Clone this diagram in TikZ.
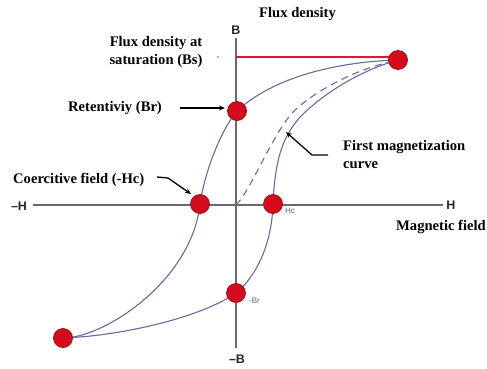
\documentclass[tikz,border=0pt]{standalone}
\usepackage{fontspec}
\setmainfont{Liberation Serif}
\newfontfamily\axisfont{Liberation Sans}
\usetikzlibrary{arrows.meta}
\definecolor{dotred}{RGB}{212,10,30}
\definecolor{dotedge}{RGB}{150,20,30}
\definecolor{curvecol}{RGB}{105,105,155}
\definecolor{axiscol}{RGB}{105,105,105}
\definecolor{satred}{RGB}{225,20,50}
\pgfdeclarelayer{bg}
\pgfsetlayers{bg,main}
\tikzset{
  dot/.style={circle, fill=dotred, draw=dotedge, line width=0.8pt, minimum size=19pt, inner sep=0pt},
  loopcurve/.style={draw=curvecol, line width=1.1pt},
  firstcurve/.style={draw=curvecol, line width=1.1pt, dash pattern=on 7pt off 5pt},
  axisline/.style={draw=axiscol, line width=1.3pt},
  satline/.style={draw=satred, line width=1.2pt},
  pointer/.style={draw=black, line width=1.3pt, -{Stealth[length=6pt,width=5pt]}},
  lbl/.style={font=\fontsize{14.6}{18}\selectfont\bfseries, inner sep=0pt},
  axlbl/.style={font=\axisfont\fontsize{12.5}{14}\selectfont\bfseries, text=black!85, inner sep=0pt},
  small/.style={font=\axisfont\fontsize{8}{9}\selectfont, text=black!60, inner sep=0pt}
}
\begin{document}
\begin{tikzpicture}[x=1pt,y=-1pt]
\useasboundingbox (0,0) rectangle (487,368);
% dots
\node[dot] (S) at (398,60) {};
\node[dot] (Br) at (237,111) {};
\node[dot] (Hn) at (200,204) {};
\node[dot] (Hp) at (273,204) {};
\node[dot] (Brn) at (236,293) {};
\node[dot] (N) at (63,338) {};
% axis end coordinates
\coordinate (vt) at (236,38);
\coordinate (vb) at (236,348);
\coordinate (hl) at (33,205);
\coordinate (hr) at (443,205);
\coordinate (O) at (236,205);
\coordinate (rs) at (236,57);
\coordinate (mA) at (300,117);
\coordinate (mD) at (293,112);
\begin{pgfonlayer}{bg}
\draw[axisline] (vt) -- (vb);
\draw[axisline] (hl) -- (hr);
\draw[satline] (rs) -- (rs -| S.center);
% descending branch
\draw[loopcurve] (S.center) .. controls (330,62) and (270,80) .. (Br.center)
  .. controls (224,126) and (206,165) .. (Hn.center)
  .. controls (192,280) and (105,338) .. (N.center);
% ascending branch
\draw[loopcurve] (N.center) .. controls (120,336) and (200,318) .. (Brn.center)
  .. controls (255,278) and (272,245) .. (Hp.center)
  .. controls (275,160) and (282,138) .. (mA)
  .. controls (320,97) and (355,72) .. (S.center);
% first magnetization
\draw[firstcurve] (O) .. controls (250,192) and (272,135) .. (mD)
  .. controls (310,95) and (350,70) .. (S.center);
\end{pgfonlayer}
% axis labels
\node[axlbl] (lB) at (236,30) {B};
\node[axlbl] (lBn) at (237,359) {–B};
\node[axlbl] (lHn) at (19,206) {–H};
\node[axlbl] (lH) at (451,205) {H};
% small labels
\node[small, anchor=west] (lHc) at (285,211) {Hc};
\node[small, anchor=west] (lBrn) at (249,301) {-Br};
% text labels
\node[lbl, anchor=west] (tFlux) at (259,14) {Flux density};
\node[lbl, align=center] (tSat) at (156,52) {Flux density at\\saturation (Bs)};
\fill[black!60] (218,57) circle (0.8pt);
\node[lbl, anchor=west] (tRet) at (68,108) {Retentiviy (Br)};
\node[lbl, anchor=west] (tCoe) at (13,180) {Coercitive field (-Hc)};
\node[lbl, anchor=west, align=left] (tFirst) at (343,155) {First magnetization\\curve};
\node[lbl, anchor=east] (tMag) at (486,227) {Magnetic field};
% pointers
\coordinate (r1) at (180,108);
\coordinate (r2) at (225,108);
\draw[pointer] (r1) -- (r2);
\coordinate (c1) at (157,177);
\coordinate (c2) at (168,178);
\coordinate (c3) at (191,194);
\draw[pointer] (c1) -- (c2) -- (c3);
\coordinate (f1) at (328,155);
\coordinate (f2) at (312,155);
\coordinate (f3) at (286,132);
\draw[pointer] (f1) -- (f2) -- (f3);
\end{tikzpicture}
\end{document}
